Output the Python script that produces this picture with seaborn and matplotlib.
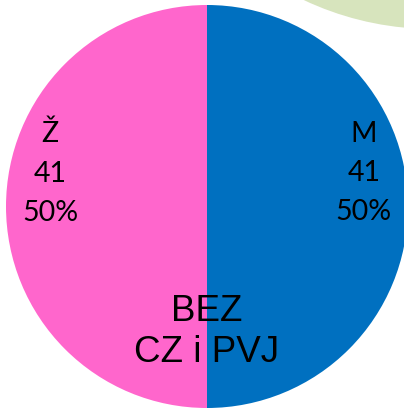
import numpy as np
import seaborn as sns
import matplotlib.pyplot as plt
from matplotlib.patches import Circle

sns.set_theme(style="white")

# data
categories = ['M', 'Ž']
counts = [41, 41]
colors = ['#0070c0', '#ff66cc']
title_text = 'BEZ\nCZ i PVJ'

fig = plt.figure(figsize=(4.04, 4.09), dpi=100)

# background axes in pixel coords (decorative green shape top-right)
bg = fig.add_axes([0, 0, 1, 1], zorder=0)
bg.set_xlim(0, 404)
bg.set_ylim(409, 0)
bg.axis('off')
bg.add_patch(Circle((433, -274), 303, facecolor='#d7e4bd', edgecolor='none'))

ax = fig.add_axes([6 / 404, 1 / 409, 402 / 404, 403 / 409], zorder=1)
ax.patch.set_alpha(0)
wedges, _ = ax.pie(counts, colors=colors, startangle=90, counterclock=False,
                   wedgeprops=dict(linewidth=0))
ax.set_aspect('auto')
ax.set_xlim(-1, 1)
ax.set_ylim(-1, 1)
ax.axis('off')

total = sum(counts)
for w, cat, n in zip(wedges, categories, counts):
    mid = np.deg2rad((w.theta1 + w.theta2) / 2)
    x = 0.78 * np.cos(mid)
    y = 0.165
    ax.text(x, y, f'{cat}\n{n}\n{n / total:.0%}', ha='center', va='center',
            fontsize=20.5, family='Lato', linespacing=1.62, color='black')

ax.text(0, -0.625, title_text, ha='center', va='center', fontsize=26.5,
        family='Liberation Sans', linespacing=1.22, color='black')

fig.savefig('out.png', dpi=100)
